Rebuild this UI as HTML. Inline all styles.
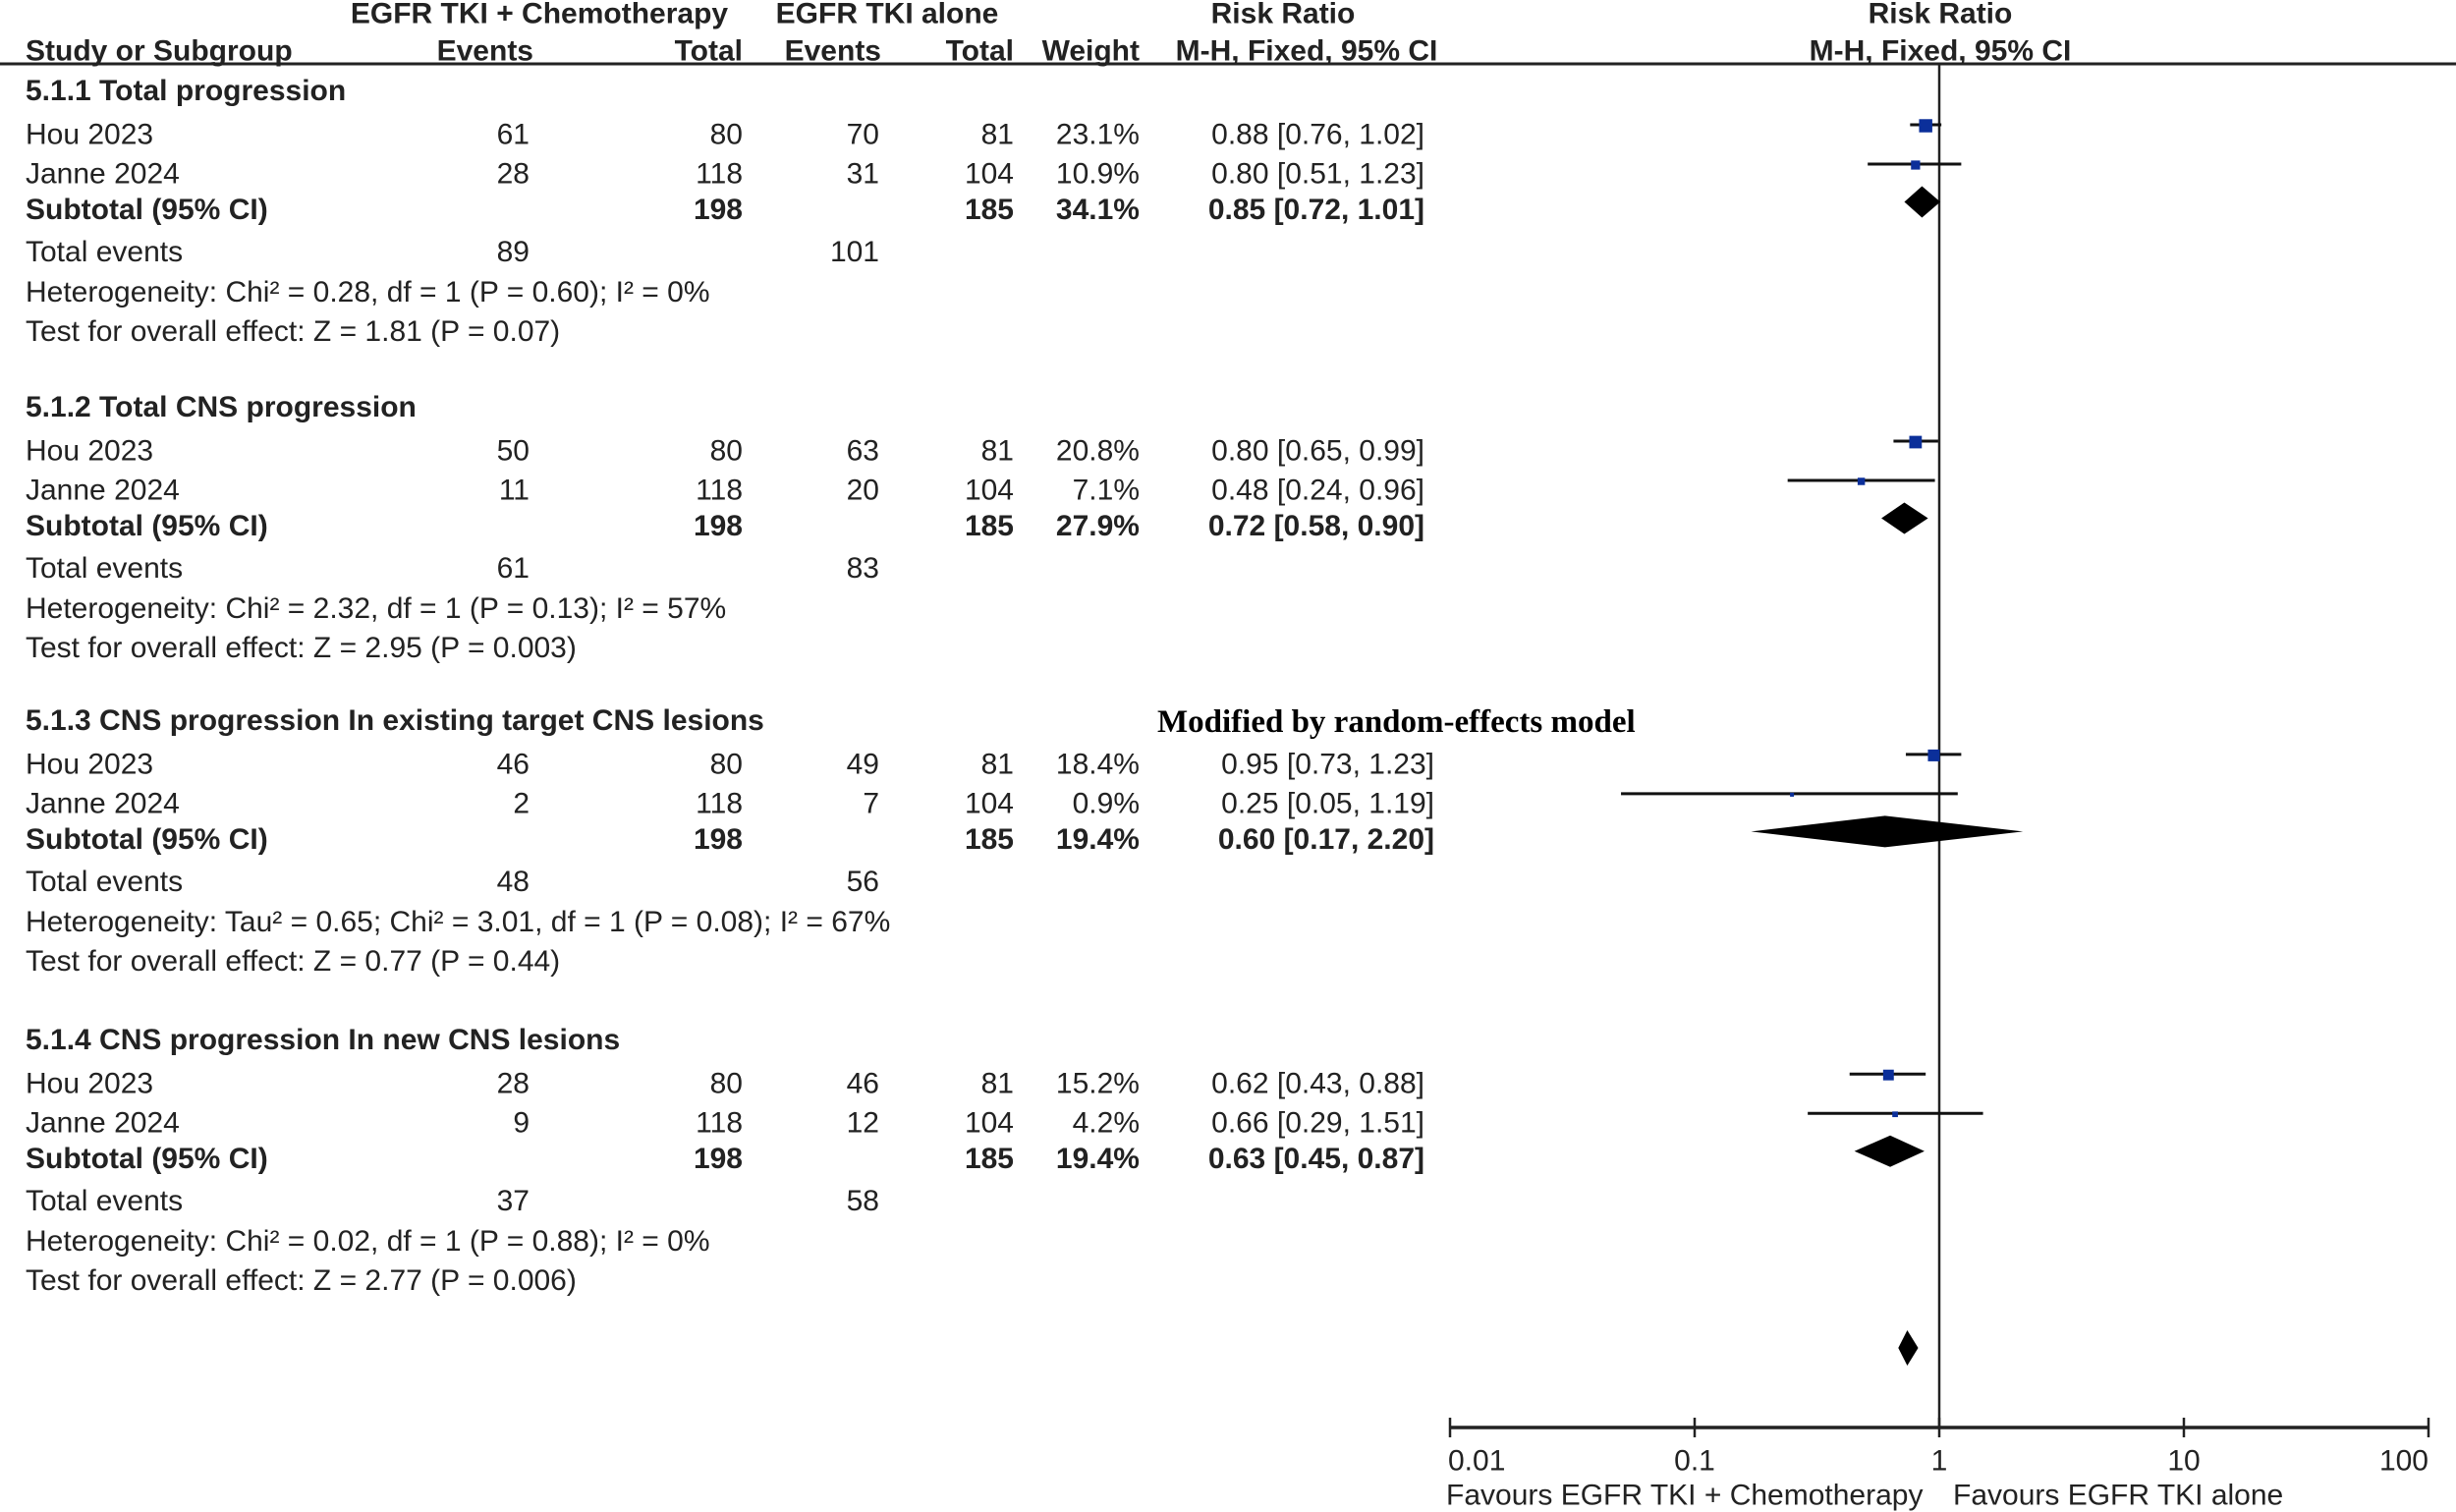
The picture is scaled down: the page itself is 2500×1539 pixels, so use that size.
<!DOCTYPE html>
<html><head><meta charset="utf-8"><style>
html,body{margin:0;padding:0;background:#fff;}
svg{display:block;}
text{font-family:"Liberation Sans",Arial,sans-serif;fill:#222;}
.b{font-weight:bold;}
</style></head><body>
<svg id="c" width="2500" height="1539" viewBox="0 0 2500 1539"></svg>
<script>
// ---- data ----
const sectionTitles = ["5.1.1 Total progression","5.1.2 Total CNS progression","5.1.3 CNS progression In existing target CNS lesions","5.1.4 CNS progression In new CNS lesions"];
const studyNames = ["Hou 2023","Janne 2024"];
const ev1 = [[61,28],[50,11],[46,2],[28,9]];
const tot1 = [[80,118],[80,118],[80,118],[80,118]];
const ev2 = [[70,31],[63,20],[49,7],[46,12]];
const tot2 = [[81,104],[81,104],[81,104],[81,104]];
const weights = [[23.1,10.9],[20.8,7.1],[18.4,0.9],[15.2,4.2]];
const rr = [[0.88,0.80],[0.80,0.48],[0.95,0.25],[0.62,0.66]];
const lo = [[0.76,0.51],[0.65,0.24],[0.73,0.05],[0.43,0.29]];
const hi = [[1.02,1.23],[0.99,0.96],[1.23,1.19],[0.88,1.51]];
const subRR = [0.85,0.72,0.60,0.63];
const subLo = [0.72,0.58,0.17,0.45];
const subHi = [1.01,0.90,2.20,0.87];
const subW = ["34.1%","27.9%","19.4%","19.4%"];
const totEv1 = [89,61,48,37];
const totEv2 = [101,83,56,58];
const hetText = ["Heterogeneity: Chi² = 0.28, df = 1 (P = 0.60); I² = 0%","Heterogeneity: Chi² = 2.32, df = 1 (P = 0.13); I² = 57%","Heterogeneity: Tau² = 0.65; Chi² = 3.01, df = 1 (P = 0.08); I² = 67%","Heterogeneity: Chi² = 0.02, df = 1 (P = 0.88); I² = 0%"];
const testText = ["Test for overall effect: Z = 1.81 (P = 0.07)","Test for overall effect: Z = 2.95 (P = 0.003)","Test for overall effect: Z = 0.77 (P = 0.44)","Test for overall effect: Z = 2.77 (P = 0.006)"];
const overall = [0.74,0.68,0.82];
const tickValues = [0.01,0.1,1,10,100];
const tickLabels = ["0.01","0.1","1","10","100"];

// ---- layout ----
const svg = document.getElementById('c');
const NS = "http://www.w3.org/2000/svg";
const x0 = 1974, dec = 249;
const FS = 30;
function xs(v){ return x0 + dec*Math.log10(v); }
const secY = [92.5, 414.5, 733.4, 1058.7];
const off = [0, 44.5, 84.5, 121, 164, 205, 245];
function el(tag, attrs, name, inter){
  const e = document.createElementNS(NS, tag);
  for (const k in attrs) e.setAttribute(k, attrs[k]);
  
  
  svg.appendChild(e); return e;
}
function txt(s, x, y, name, anchor, bold, size){
  const t = el('text', {x:x, y:y, 'font-size': size||FS, 'text-anchor': anchor||'start', 'dominant-baseline':'central', 'class': bold?'b':''}, name, false);
  t.textContent = s; return t;
}
function fmt(v){ return v.toFixed(2); }

// headers
txt("EGFR TKI + Chemotherapy", 549, 14, 'header-group-1', 'middle', true);
txt("EGFR TKI alone", 903, 14, 'header-group-2', 'middle', true);
txt("Risk Ratio", 1306, 14, 'header-risk-ratio', 'middle', true);
txt("Risk Ratio", 1975, 14, 'header-risk-ratio-plot', 'middle', true);
txt("Study or Subgroup", 26, 52, 'header-study', 'start', true);
txt("Events", 543, 52, 'header-events-1', 'end', true);
txt("Total", 756, 52, 'header-total-1', 'end', true);
txt("Events", 897, 52, 'header-events-2', 'end', true);
txt("Total", 1032, 52, 'header-total-2', 'end', true);
txt("Weight", 1160, 52, 'header-weight', 'end', true);
txt("M-H, Fixed, 95% CI", 1330, 52, 'header-method', 'middle', true);
txt("M-H, Fixed, 95% CI", 1975, 52, 'header-method-plot', 'middle', true);
el('line', {x1:0, y1:65, x2:2500, y2:65, stroke:'#222', 'stroke-width':3}, 'header-rule', false);

// null line
el('line', {x1:x0, y1:65, x2:x0, y2:1452, stroke:'#222', 'stroke-width':2.5}, 'null-line', false);

for (let s=0; s<4; s++){
  const b = secY[s];
  const rrRight = s===2 ? 1460 : 1450;
  txt(sectionTitles[s], 26, b, 'section-title', 'start', true);
  for (let i=0; i<2; i++){
    const y = b + off[1+i];
    txt(studyNames[i], 26, y, 'study-name', 'start');
    txt(String(ev1[s][i]), 539, y, 'events-1', 'end');
    txt(String(tot1[s][i]), 756, y, 'total-1', 'end');
    txt(String(ev2[s][i]), 895, y, 'events-2', 'end');
    txt(String(tot2[s][i]), 1032, y, 'total-2', 'end');
    txt(weights[s][i].toFixed(1)+"%", 1160, y, 'weight', 'end');
    txt(fmt(rr[s][i])+" ["+fmt(lo[s][i])+", "+fmt(hi[s][i])+"]", rrRight, y, 'risk-ratio-ci', 'end');
    const my = y - 10;
    el('line', {x1:xs(lo[s][i]), y1:my, x2:xs(hi[s][i]), y2:my, stroke:'#111', 'stroke-width':3}, 'ci-line', false);
    const side = Math.max(4, 2.8*Math.sqrt(weights[s][i]));
    el('rect', {x:xs(rr[s][i])-side/2, y:my-side/2+1, width:side, height:side, fill:'#0b2f9a'}, 'study-square', false);
  }
  const ys = b + off[3];
  txt("Subtotal (95% CI)", 26, ys, 'subtotal-label', 'start', true);
  txt("198", 756, ys, 'subtotal-total-1', 'end', true);
  txt("185", 1032, ys, 'subtotal-total-2', 'end', true);
  txt(subW[s], 1160, ys, 'subtotal-weight', 'end', true);
  txt(fmt(subRR[s])+" ["+fmt(subLo[s])+", "+fmt(subHi[s])+"]", rrRight, ys, 'subtotal-rr', 'end', true);
  const dy = ys - 8, h = 16;
  el('polygon', {points:[xs(subLo[s])+','+dy, xs(subRR[s])+','+(dy-h), xs(subHi[s])+','+dy, xs(subRR[s])+','+(dy+h)].join(' '), fill:'#000'}, 'subtotal-diamond', false);
  const yt = b + off[4];
  txt("Total events", 26, yt, 'total-events-label', 'start');
  txt(String(totEv1[s]), 539, yt, 'total-events-1', 'end');
  txt(String(totEv2[s]), 895, yt, 'total-events-2', 'end');
  txt(hetText[s], 26, b + off[5], 'heterogeneity', 'start');
  txt(testText[s], 26, b + off[6], 'overall-effect-test', 'start');
}

// note
const note = txt("Modified by random-effects model", 1178, 735, 'random-effects-note', 'start', true, 33);
note.setAttribute('style', 'font-family:"Liberation Serif",serif;fill:#000');

// overall diamond
const oy = 1372;
el('polygon', {points:[xs(overall[1])+','+oy, xs(overall[0])+','+(oy-18), xs(overall[2])+','+oy, xs(overall[0])+','+(oy+18)].join(' '), fill:'#000'}, 'overall-diamond', false);

// axis
const ay = 1453;
el('line', {x1:xs(tickValues[0]), y1:ay, x2:xs(tickValues[tickValues.length-1]), y2:ay, stroke:'#222', 'stroke-width':3.5}, 'x-axis', false);
for (let i=0; i<tickValues.length; i++){
  const x = xs(tickValues[i]);
  el('line', {x1:x, y1:ay-10, x2:x, y2:ay+10, stroke:'#222', 'stroke-width':2.5}, 'x-tick', false);
  const anc = i===0 ? 'start' : (i===tickValues.length-1 ? 'end' : 'middle');
  txt(tickLabels[i], x + (i===0?-2:0), 1487, 'x-tick-label', anc);
}
txt("Favours EGFR TKI + Chemotherapy", 1472, 1522, 'favours-left-label', 'start');
txt("Favours EGFR TKI alone", 1988, 1522, 'favours-right-label', 'start');
</script>
</body></html>
